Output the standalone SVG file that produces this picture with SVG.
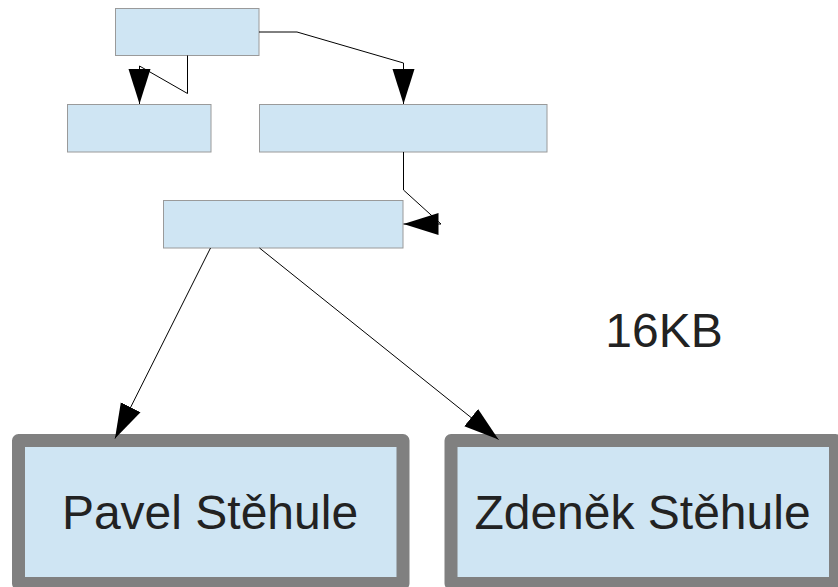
<svg xmlns="http://www.w3.org/2000/svg" width="838" height="587" viewBox="0 0 838 587">
  <style>
    .box { fill: #cfe5f3; stroke: #9a9a9a; stroke-width: 1; }
    .person { fill: #cfe5f3; stroke: #808080; stroke-width: 13; stroke-linejoin: round; }
    .edge { fill: none; stroke: #000; stroke-width: 1; marker-end: url(#arrow); }
    .label { font-family: "Liberation Sans", Arial, sans-serif; font-size: 48px; fill: #222; }
  </style>
  <defs>
    <marker id="arrow" markerUnits="userSpaceOnUse" markerWidth="36" markerHeight="24" viewBox="0 0 36 24" refX="35" refY="12" orient="auto">
      <path d="M0,1 L35,12 L0,23 Z" fill="#000"/>
    </marker>
  </defs>

  <g id="nodes">
    <g id="n-top"><rect class="box" x="115.5" y="8.5" width="143.5" height="47"/></g>
    <g id="n-left"><rect class="box" x="67.5" y="104.5" width="143.5" height="47.5"/></g>
    <g id="n-right"><rect class="box" x="259.5" y="104.5" width="287.5" height="47.5"/></g>
    <g id="n-mid"><rect class="box" x="163.5" y="200.5" width="239.5" height="47.5"/></g>
    <g id="n-pavel">
      <rect class="person" x="18.5" y="440.5" width="384.5" height="143"/>
      <text class="label" x="210" y="529" text-anchor="middle">Pavel Stěhule</text>
    </g>
    <g id="n-zdenek">
      <rect class="person" x="451" y="440.5" width="384.5" height="143"/>
      <text class="label" x="642.5" y="529" text-anchor="middle">Zdeněk Stěhule</text>
    </g>
    <g id="n-size">
      <text class="label" x="664" y="347" text-anchor="middle">16KB</text>
    </g>
  </g>

  <g id="connectors">
    <path class="edge" d="M187.5,55.5 V93.5 L139.5,66 V104"/>
    <path class="edge" d="M259,32 H297 L403.5,63 V104"/>
    <path class="edge" d="M403.5,152 V190 L441,224 H403.5"/>
    <path class="edge" d="M210.5,248 L115,438.5"/>
    <path class="edge" d="M259.5,248 L498.5,439.5"/>
  </g>
</svg>
